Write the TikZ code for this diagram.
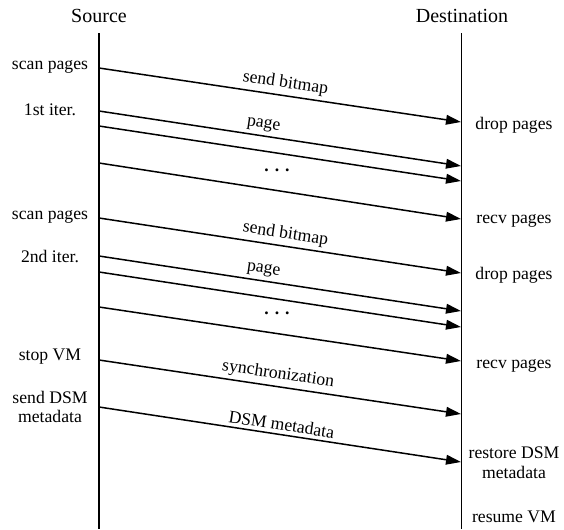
\documentclass[tikz,border=0pt]{standalone}
\usepackage{fontspec}
\setmainfont{Liberation Serif}
\usepackage{tikz}
\usetikzlibrary{arrows.meta}
\tikzset{
  lifeline/.style={draw=black, line width=1pt},
  msg/.style={draw=black, line width=0.9pt, -{Triangle[length=9pt,width=5.8pt]}},
  title/.style={font=\fontsize{12}{14}\selectfont},
  lab/.style={font=\fontsize{10.6}{11.8}\selectfont, align=center},
  msglab/.style={font=\fontsize{10.6}{11.8}\selectfont, above, sloped, inner sep=2pt},
}

\begin{document}
\begin{tikzpicture}[x=0.6pt,y=-0.6pt]
  \useasboundingbox (0,0) rectangle (564,529);
  % the two hosts
  \node[title] (src) at (99,16) {Source};
  \node[title] (dst) at (462,16) {Destination};
  \coordinate (srctop) at (99,33);
  \coordinate (srcbot) at (99,529);
  \coordinate (dsttop) at (461.5,33);
  \coordinate (dstbot) at (461.5,529);
  \draw[lifeline] (srctop)--(srcbot);
  \draw[lifeline] (dsttop)--(dstbot);
  % message ends, source y / destination y
  \foreach \n/\a/\b in {1/68/122, 2/111/166, 3/126/181, 4/163/219, 5/218/273,
                        6/256/311, 7/272/327, 8/307/361, 9/360/414, 10/407/462}
    {\coordinate (s\n) at (99,\a);
     \coordinate (d\n) at (461,\b);}
  % first iteration
  \draw[msg] (s1)--node[msglab,pos=.51]{send bitmap} (d1);
  \draw[msg] (s2)--node[msglab,pos=.45]{page} (d2);
  \draw[msg] (s3)--(d3);
  \draw[msg] (s4)--(d4);
  \node[lab] (dots1) at (277,170) {\textbf{. . .}};
  % second iteration
  \draw[msg] (s5)--node[msglab,pos=.51]{send bitmap} (d5);
  \draw[msg] (s6)--node[msglab,pos=.45]{page} (d6);
  \draw[msg] (s7)--(d7);
  \draw[msg] (s8)--(d8);
  \node[lab] (dots2) at (277,313) {\textbf{. . .}};
  % stop and copy
  \draw[msg] (s9)--node[msglab,pos=.49]{synchronization} (d9);
  \draw[msg] (s10)--node[msglab,pos=.5]{DSM metadata} (d10);
  % source side
  \node[lab] (scan1) at (50,67) {scan pages};
  \node[lab] (iter1) at (50,110) {1st iter.};
  \node[lab] (scan2) at (50,217) {scan pages};
  \node[lab] (iter2) at (50,256) {2nd iter.};
  \node[lab] (stop) at (50,357) {stop VM};
  \node[lab] (senddsm) at (50,407) {send DSM\\metadata};
  % destination side
  \node[lab] (drop1) at (514,125) {drop pages};
  \node[lab] (recv1) at (514,221) {recv pages};
  \node[lab] (drop2) at (514,275) {drop pages};
  \node[lab] (recv2) at (514,366) {recv pages};
  \node[lab] (restore) at (514,463) {restore DSM\\metadata};
  \node[lab] (resume) at (514,517) {resume VM};
\end{tikzpicture}
\end{document}
